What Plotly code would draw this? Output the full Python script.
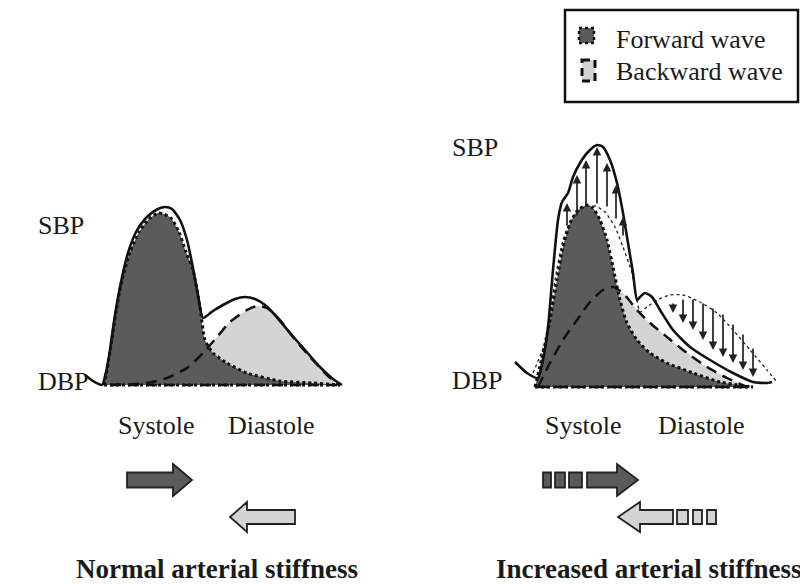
import plotly.graph_objects as go

# ---------------- data (diagram coordinates, pixel-like units) ----------------
# Left panel: normal arterial stiffness
L_solid_x = [85, 93, 102, 106, 110, 115, 121, 128, 136, 146, 156, 165, 172, 180, 187, 193, 198, 203, 213, 223, 235, 245, 255, 265, 275, 290, 305, 320, 333, 342]
L_solid_y = [375, 381, 385, 372, 350, 315, 282, 253, 232, 218, 210, 207, 209, 220, 240, 268, 295, 318, 311, 305, 299, 297, 299, 305, 315, 333, 350, 367, 379, 385]

L_fwd_x = [104, 107, 111, 116, 122, 130, 139, 149, 158, 164, 171, 179, 186, 193, 200, 205, 213, 227, 247, 280, 313, 340]
L_fwd_y = [385, 370, 345, 312, 280, 252, 232, 219, 213, 214, 218, 232, 252, 270, 307, 340, 353, 363, 373, 381, 383, 385]

L_bwd_x = [110, 147, 167, 187, 203, 217, 230, 247, 257, 267, 280, 293, 310, 327, 338]
L_bwd_y = [385, 383, 378, 368, 353, 337, 322, 310, 306, 308, 320, 337, 357, 375, 385]

# Right panel: increased arterial stiffness
R_solid_x = [515, 527, 538, 543, 548, 553, 558, 562, 568, 573, 580, 588, 597, 603, 610, 617, 623, 628, 633, 637, 640, 645, 652, 660, 673, 690, 710, 733, 753, 767, 772]
R_solid_y = [362, 373, 378, 360, 327, 270, 220, 202, 193, 177, 163, 152, 145, 147, 160, 183, 213, 243, 273, 300, 297, 293, 297, 310, 330, 347, 360, 373, 382, 383, 382]

R_fwd_x = [535, 543, 550, 557, 563, 570, 578, 587, 593, 600, 607, 613, 620, 627, 637, 650, 667, 693, 720, 753]
R_fwd_y = [387, 353, 320, 280, 247, 223, 210, 205, 208, 220, 240, 267, 300, 323, 340, 353, 363, 373, 382, 387]

R_bwd_x = [538, 550, 563, 577, 590, 603, 613, 623, 637, 650, 667, 687, 707, 727, 747]
R_bwd_y = [387, 363, 340, 320, 302, 290, 287, 293, 310, 323, 337, 353, 367, 378, 387]

R_orig_x = [533, 547, 555, 563, 573, 585, 595, 605, 615, 623, 632, 637, 640, 647, 657, 670, 683, 700, 717, 733, 750, 767, 777]
R_orig_y = [373, 337, 280, 240, 217, 207, 206, 212, 227, 247, 273, 300, 312, 307, 300, 295, 295, 302, 313, 330, 350, 370, 382]

# augmentation arrows (systole: up) and reduction arrows (diastole: down)
up_x = [567, 577, 586, 597, 607, 616, 623]
up_from = [227, 217, 208, 205, 208, 220, 237]
up_to = [203, 175, 160, 147, 163, 185, 217]

down_x = [673, 683, 693, 703, 713, 723, 733, 743, 753]
down_from = [302, 298, 298, 302, 307, 313, 323, 333, 347]
down_to = [313, 323, 330, 340, 350, 357, 363, 370, 377]

# text labels
labels = ["SBP", "DBP", "SBP", "DBP", "Systole", "Diastole", "Systole", "Diastole"]
label_x = [36, 36, 450, 450, 116, 226, 543, 656]
label_y = [225, 381, 147, 380, 425, 425, 425, 425]

titles = ["Normal arterial stiffness", "Increased arterial stiffness"]
title_x = [217, 648]
title_y = [569, 569]

legend_names = ["Forward wave", "Backward wave"]

DARK = "#5b5b5b"
LIGHT = "#d4d4d4"
FONT = "Liberation Serif"
DASH = "11px,7px"

fig = go.Figure()

def fill(x, y, color):
    fig.add_trace(go.Scatter(x=x, y=y, mode="lines", fill="toself", fillcolor=color,
                             line=dict(width=0, shape="spline", smoothing=0.6),
                             hoverinfo="skip", showlegend=False))

def line(x, y, width, dash, color="#111"):
    fig.add_trace(go.Scatter(x=x, y=y, mode="lines",
                             line=dict(width=width, dash=dash, color=color, shape="spline", smoothing=0.6),
                             hoverinfo="skip", showlegend=False))

# fills
fill(L_bwd_x, L_bwd_y, LIGHT)
fill(R_bwd_x, R_bwd_y, LIGHT)
fill(L_fwd_x, L_fwd_y, DARK)
fill(R_fwd_x, R_fwd_y, DARK)

# original (normal) waveform shown thin dotted on the right
line(R_orig_x, R_orig_y, 1.3, "dot", "#222")

# baselines
line([L_fwd_x[0], L_fwd_x[-1]], [L_fwd_y[0], L_fwd_y[-1]], 3, "dot")
line([L_bwd_x[0], L_bwd_x[-1]], [L_bwd_y[0], L_bwd_y[-1]], 2.5, DASH)
line([R_fwd_x[0], R_fwd_x[-1]], [R_fwd_y[0], R_fwd_y[-1]], 3, "dot")
line([R_bwd_x[0], R_bwd_x[-1]], [R_bwd_y[0], R_bwd_y[-1]], 2.5, DASH)

# outlines
line(L_bwd_x, L_bwd_y, 2.5, DASH)
line(R_bwd_x, R_bwd_y, 2.5, DASH)
line(L_fwd_x, L_fwd_y, 3, "dot")
line(R_fwd_x, R_fwd_y, 3, "dot")
line(L_solid_x, L_solid_y, 2.6, "solid")
line(R_solid_x, R_solid_y, 2.6, "solid")

annotations = []
for x, y0, y1 in list(zip(up_x, up_from, up_to)) + list(zip(down_x, down_from, down_to)):
    annotations.append(dict(x=x, y=y1, ax=x, ay=y0, axref="x", ayref="y", xref="x", yref="y",
                            text="", showarrow=True, arrowhead=2, arrowsize=1.0, arrowwidth=1.7,
                            arrowcolor="#222", standoff=0, startstandoff=0))

for t, x, y in zip(labels, label_x, label_y):
    annotations.append(dict(x=x, y=y, xref="x", yref="y", text=t, showarrow=False,
                            xanchor="left", yanchor="middle",
                            font=dict(family=FONT, size=26, color="#1a1a1a")))
for t, x, y in zip(titles, title_x, title_y):
    annotations.append(dict(x=x, y=y, xref="x", yref="y", text="<b>" + t + "</b>", showarrow=False,
                            xanchor="center", yanchor="middle",
                            font=dict(family=FONT, size=27, color="#1a1a1a")))
for i, t in enumerate(legend_names):
    annotations.append(dict(x=614, y=39 + 32 * i, xref="x", yref="y", text=t, showarrow=False,
                            xanchor="left", yanchor="middle",
                            font=dict(family=FONT, size=26, color="#1a1a1a")))

shapes = []
# legend frame and symbols
shapes.append(dict(type="rect", x0=565, x1=798, y0=10, y1=102, xref="x", yref="y",
                   line=dict(color="#111", width=2.5), fillcolor="rgba(0,0,0,0)"))
shapes.append(dict(type="rect", x0=579, x1=594, y0=28, y1=43, xref="x", yref="y",
                   line=dict(color="#111", width=2.5, dash="dot"), fillcolor=DARK))
shapes.append(dict(type="rect", x0=582, x1=595, y0=60, y1=81, xref="x", yref="y",
                   line=dict(color="#111", width=3, dash="8px,5px"), fillcolor=LIGHT))


def arrow(tail, tip, yc, sh, hh, hl, color):
    d = 1 if tip > tail else -1
    hb = tip - d * hl
    p = (f"M {tail},{yc - sh} L {hb},{yc - sh} L {hb},{yc - hh} L {tip},{yc} "
         f"L {hb},{yc + hh} L {hb},{yc + sh} L {tail},{yc + sh} Z")
    shapes.append(dict(type="path", path=p, xref="x", yref="y", fillcolor=color,
                       line=dict(color="#222", width=1.8)))


def block(x0, x1, yc, sh, color):
    shapes.append(dict(type="rect", x0=x0, x1=x1, y0=yc - sh, y1=yc + sh, xref="x", yref="y",
                       fillcolor=color, line=dict(color="#222", width=1.8)))

arrow(127, 192, 480, 7.5, 16, 19, DARK)
arrow(295, 230, 517, 7, 15, 17, LIGHT)
arrow(587, 638, 480, 7.5, 16, 21, DARK)
arrow(673, 618, 517, 7, 15, 22, LIGHT)
for a, b in [(543, 551), (555, 565), (569, 582)]:
    block(a, b, 480, 7.5, DARK)
for a, b in [(677, 688), (693, 702), (707, 716)]:
    block(a, b, 517, 7, LIGHT)

fig.update_layout(
    width=800, height=584, margin=dict(l=0, r=0, t=0, b=0),
    paper_bgcolor="white", plot_bgcolor="white",
    xaxis=dict(range=[0, 800], visible=False, fixedrange=True),
    yaxis=dict(range=[584, 0], visible=False, fixedrange=True),
    annotations=annotations, shapes=shapes, showlegend=False,
)

fig.write_html("out.html", config={"displayModeBar": False},
               post_script="document.body.style.margin='0px';document.body.style.overflow='hidden';")
